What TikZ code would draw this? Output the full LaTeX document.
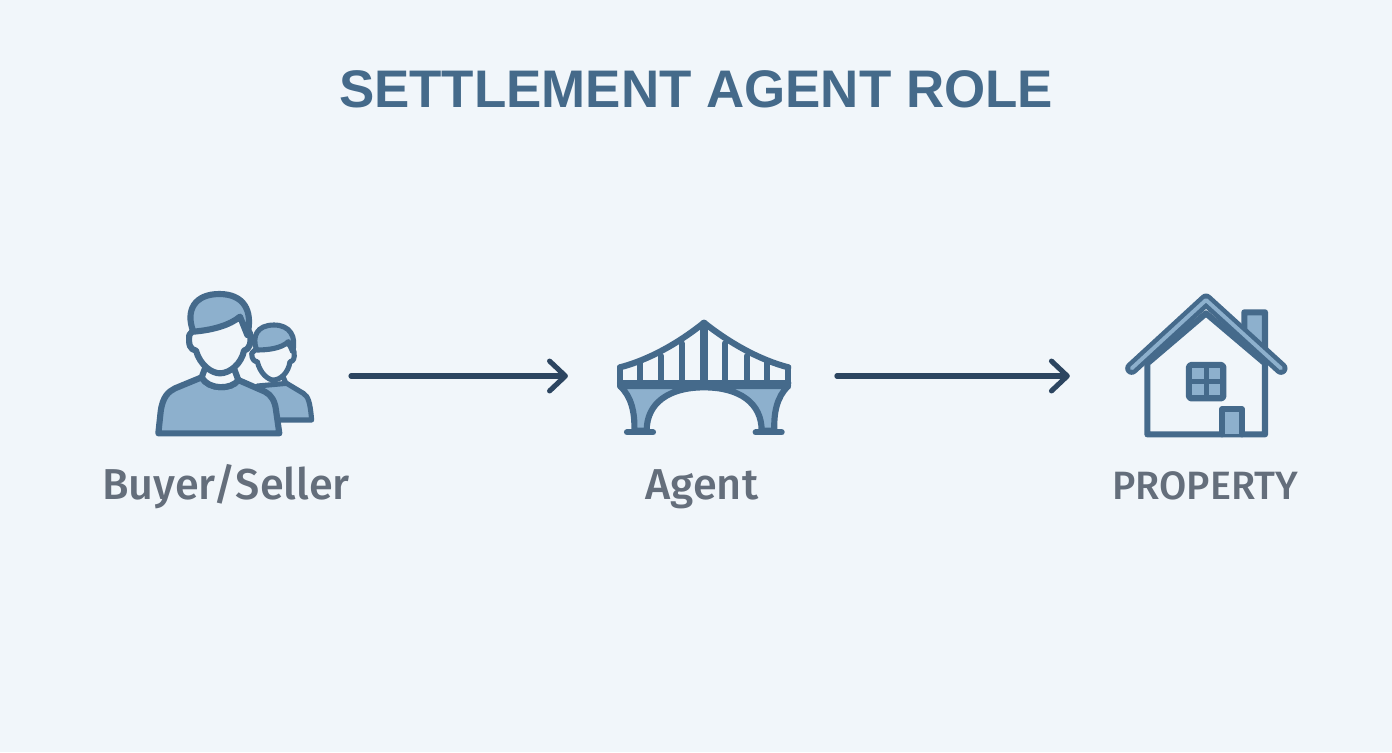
\documentclass[tikz,border=0pt]{standalone}
\usepackage{fontspec}
\usepackage{xcolor}
\usetikzlibrary{arrows.meta, positioning}
\setmainfont{Liberation Sans}
\newfontfamily\labelfont{Fira Sans Medium}
\definecolor{pagebg}{HTML}{F1F6FA}
\definecolor{iconline}{HTML}{456A8B}
\definecolor{iconfill}{HTML}{8DB0CD}
\definecolor{arrowline}{HTML}{2C4560}
\definecolor{titletext}{HTML}{456A8A}
\definecolor{labeltext}{HTML}{646E7B}
\tikzset{
  icon/.style={inner sep=0pt, outer sep=0pt, minimum height=2.4cm},
  label text/.style={text=labeltext, font=\labelfont\fontsize{24.6}{28}\selectfont, anchor=base},
  flow/.style={draw=arrowline, line width=2.9pt, line cap=round, -{Straight Barb[length=9pt, width=17pt, line cap=round, line join=round]}},
  outline/.style={draw=iconline, line width=3.5pt, line join=round, line cap=round},
  zoomed/.style={x=0.02cm/3, y=-0.02cm/3}
}

\begin{document}
\begin{tikzpicture}[x=0.02cm, y=-0.02cm]
\path[fill=pagebg, use as bounding box] (0,0) rectangle (1392,752);

% Title
\node[text=titletext, font=\fontsize{30.1}{36}\selectfont\bfseries] (title) at (696,89) {SETTLEMENT AGENT ROLE};

% Placeholders for the three icons
\node[icon, minimum width=3.12cm] (people) at (235,376) {};
\node[icon, minimum width=3.44cm, right=6.1cm of people] (bridge) {};
\node[icon, minimum width=3.18cm, right=6.74cm of bridge] (house) {};

% Labels
\node[label text, below=1.28cm of people.south, anchor=base, xshift=-0.18cm] (buyer) {Buyer/Seller};
\node[label text, below=1.28cm of bridge.south, anchor=base, xshift=-0.04cm] (agent) {Agent};
\node[label text, font=\labelfont\fontsize{22.5}{26}\selectfont, below=1.28cm of house.south, anchor=base, xshift=-0.02cm] (property) {PROPERTY};

% Connectors
\draw[flow, shorten <=0.76cm, shorten >=1cm] (people) -- (bridge);
\draw[flow, shorten <=0.94cm, shorten >=1.14cm] (bridge) -- (house);

% Person behind
\begin{scope}[shift={(140,280)}, zoomed, outline/.append style={line width=2.9pt}]
\draw[outline, fill=iconfill] (352,318) -- (440,310) -- (490,340) .. controls (505,350) and (510,365) .. (515,420) -- (400,420) -- cycle;
\draw[outline, fill=pagebg] (335,220) .. controls (335,240) and (345,245) .. (352,245) .. controls (360,280) and (385,300) .. (400,300) .. controls (420,300) and (445,280) .. (450,245) .. controls (460,245) and (465,235) .. (462,215) -- (445,190) -- (350,205) -- cycle;
\draw[outline, fill=iconfill] (350,210) .. controls (335,170) and (350,135) .. (402,135) .. controls (450,135) and (470,170) .. (458,215) -- (445,185) .. controls (425,205) and (385,210) .. (350,210) -- cycle;
\draw[outline] (438,310) -- (430,292);
\end{scope}

% Person in front
\begin{scope}[shift={(140,280)}, zoomed]
\draw[outline, fill=iconfill] (55,460) -- (62,395) .. controls (68,350) and (85,335) .. (105,325) -- (185,292) .. controls (205,330) and (275,330) .. (295,300) -- (375,335) .. controls (395,345) and (405,365) .. (408,390) -- (418,460) -- cycle;
\draw[outline, fill=pagebg] (195,265) -- (185,292) .. controls (205,330) and (275,330) .. (295,300) -- (282,265) -- cycle;
\draw[outline, fill=pagebg] (148,165) .. controls (145,195) and (150,208) .. (168,212) .. controls (180,255) and (215,280) .. (240,280) .. controls (270,280) and (305,250) .. (312,212) .. controls (328,208) and (335,190) .. (330,160) -- (300,110) -- (160,150) -- cycle;
\draw[outline, fill=iconfill] (160,155) .. controls (135,90) and (165,42) .. (238,42) .. controls (310,42) and (340,90) .. (322,165) -- (300,110) .. controls (270,135) and (220,150) .. (160,155) -- cycle;
\end{scope}

% Bridge
\begin{scope}[shift={(605,310)}, zoomed]
\draw[outline, fill=iconfill] (45,228) .. controls (80,260) and (90,310) .. (88,362) -- (125,362) .. controls (125,280) and (190,232) .. (297,232) .. controls (405,232) and (470,280) .. (470,362) -- (508,362) .. controls (506,310) and (515,260) .. (550,228) -- cycle;
\draw[outline] (45,172) .. controls (130,150) and (220,100) .. (297,38) .. controls (375,100) and (465,150) .. (550,172);
\draw[outline] (45,172) -- (45,228) (550,172) -- (550,228);
\draw[outline] (45,218) -- (550,218);
\foreach \hx/\hy in {105/158, 168/138, 230/100, 360/100, 425/138, 487/158}
  \draw[outline] (\hx,\hy) -- (\hx,214);
\draw[outline, line width=4pt] (297,40) -- (297,214);
\draw[outline] (66,367) -- (144,367) (452,367) -- (530,367);
\end{scope}

% House
\begin{scope}[shift={(1115,285)}, zoomed]
\draw[outline, fill=iconfill] (388,140) -- (388,82) -- (450,82) -- (450,195) -- cycle;
\draw[outline, fill=pagebg] (97,235) -- (97,448) -- (450,448) -- (450,235) -- (273,85) -- cycle;
\draw[draw=iconline, line width=7.4pt, line join=round, line cap=round] (50,250) -- (273,45) -- (498,250);
\draw[draw=iconfill, line width=2.2pt, line join=round, line cap=round] (50,250) -- (273,45) -- (498,250);
\draw[outline, rounded corners=1pt, fill=iconline] (222,240) rectangle (325,340);
\foreach \wx/\wy in {232/250, 282/250, 232/298, 282/298}
  \fill[iconfill] (\wx,\wy) rectangle ++(34,33);
\draw[outline, fill=iconfill] (322,448) -- (322,372) -- (380,372) -- (380,448);
\end{scope}
\end{tikzpicture}
\end{document}
